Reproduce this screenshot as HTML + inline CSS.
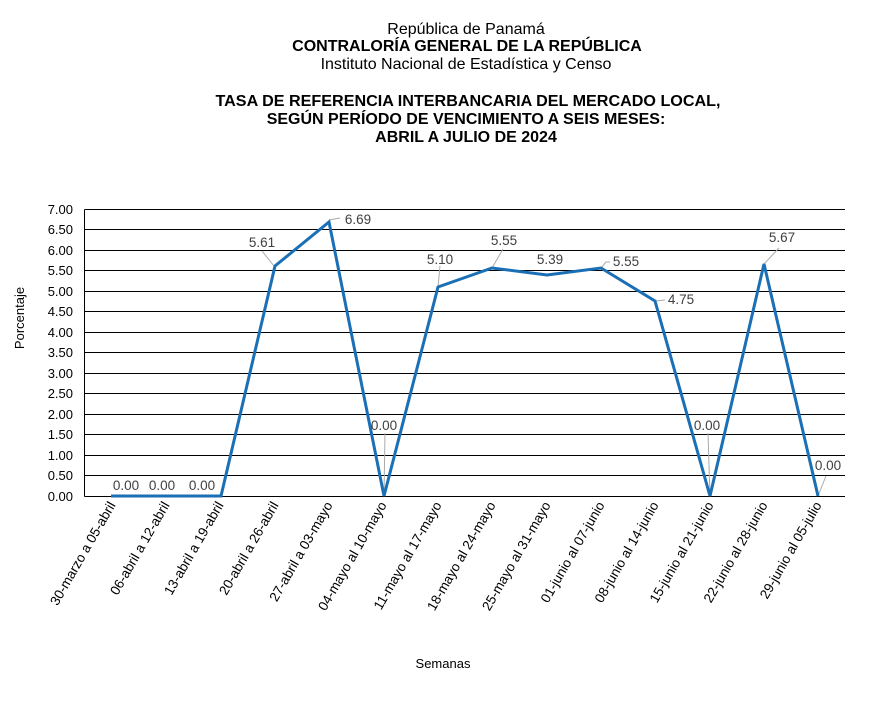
<!DOCTYPE html>
<html><head><meta charset="utf-8"><style>body{margin:0;background:#fff}svg{display:block}text{font-family:"Liberation Sans",Arial,sans-serif}</style></head><body>
<svg width="894" height="704" viewBox="0 0 894 704" xmlns="http://www.w3.org/2000/svg">
<g text-anchor="middle" fill="#000">
<text x="466" y="34" font-size="16">República de Panamá</text>
<text x="467" y="51" font-size="16" font-weight="bold">CONTRALORÍA GENERAL DE LA REPÚBLICA</text>
<text x="466" y="69" font-size="16">Instituto  Nacional de Estadística y Censo</text>
<text x="468" y="106" font-size="16" font-weight="bold" textLength="505" lengthAdjust="spacingAndGlyphs">TASA DE REFERENCIA INTERBANCARIA DEL MERCADO LOCAL,</text>
<text x="466" y="124" font-size="16" font-weight="bold">SEGÚN PERÍODO DE VENCIMIENTO A SEIS MESES:</text>
<text x="466" y="142" font-size="16" font-weight="bold">ABRIL A JULIO DE 2024</text>
</g>
<g stroke="#000" stroke-width="1">
<line x1="84.5" y1="209.5" x2="84.5" y2="496.5"/>
<line x1="84.5" y1="209.5" x2="845" y2="209.5"/><line x1="84.5" y1="229.5" x2="845" y2="229.5"/><line x1="84.5" y1="250.5" x2="845" y2="250.5"/><line x1="84.5" y1="270.5" x2="845" y2="270.5"/><line x1="84.5" y1="291.5" x2="845" y2="291.5"/><line x1="84.5" y1="311.5" x2="845" y2="311.5"/><line x1="84.5" y1="332.5" x2="845" y2="332.5"/><line x1="84.5" y1="352.5" x2="845" y2="352.5"/><line x1="84.5" y1="373.5" x2="845" y2="373.5"/><line x1="84.5" y1="393.5" x2="845" y2="393.5"/><line x1="84.5" y1="414.5" x2="845" y2="414.5"/><line x1="84.5" y1="434.5" x2="845" y2="434.5"/><line x1="84.5" y1="455.5" x2="845" y2="455.5"/><line x1="84.5" y1="475.5" x2="845" y2="475.5"/><line x1="84.5" y1="496.5" x2="845" y2="496.5"/>
</g>
<g font-size="13" text-anchor="end" fill="#000">
<text x="73" y="214">7.00</text><text x="73" y="234">6.50</text><text x="73" y="255">6.00</text><text x="73" y="275">5.50</text><text x="73" y="296">5.00</text><text x="73" y="316">4.50</text><text x="73" y="337">4.00</text><text x="73" y="357">3.50</text><text x="73" y="378">3.00</text><text x="73" y="398">2.50</text><text x="73" y="419">2.00</text><text x="73" y="439">1.50</text><text x="73" y="460">1.00</text><text x="73" y="480">0.50</text><text x="73" y="501">0.00</text>
</g>
<text x="24" y="318" font-size="13" text-anchor="middle" transform="rotate(-90 24 318)">Porcentaje</text>
<text x="443" y="668" font-size="13" text-anchor="middle">Semanas</text>
<g stroke="#aaa" stroke-width="1" fill="none">
<path d="M274 266 L262 251"/><path d="M329 220 L340 218"/><path d="M384 496 L385 433"/><path d="M438 287 L440 266"/><path d="M492 268 L503 249"/><path d="M601 268 L606 262 L610 262"/><path d="M655 301 L665 300"/><path d="M710 496 L708 433"/><path d="M764 264 L779 248"/><path d="M818 496 L826 476"/>
</g>
<polyline fill="none" stroke="#1b6fb4" stroke-width="3" stroke-linejoin="miter" points="111,496 166,496 221,496 275,266 329,222 384,496 438,287 492,268 547,275 601,268 655,301 710,496 764,264 818,496"/>
<g font-size="13.5" fill="#404040" text-anchor="middle">
<text x="126" y="490">0.00</text><text x="162" y="490">0.00</text><text x="202" y="490">0.00</text>
<text x="262" y="247">5.61</text><text x="358" y="224">6.69</text><text x="384" y="430">0.00</text>
<text x="440" y="264">5.10</text><text x="504" y="245">5.55</text><text x="550" y="264">5.39</text>
<text x="626" y="266">5.55</text><text x="681" y="304">4.75</text><text x="707" y="430">0.00</text>
<text x="782" y="242">5.67</text><text x="828" y="470">0.00</text>
</g>
<g font-size="13.5" text-anchor="end" fill="#000">
<text transform="translate(116,505) rotate(-60)">30-marzo a 05-abril</text>
<text transform="translate(170,505) rotate(-60)">06-abril a 12-abril</text>
<text transform="translate(224,505) rotate(-60)">13-abril a 19-abril</text>
<text transform="translate(279,505) rotate(-60)">20-abril a 26-abril</text>
<text transform="translate(333,505) rotate(-60)">27-abril a 03-mayo</text>
<text transform="translate(387,505) rotate(-60)">04-mayo al 10-mayo</text>
<text transform="translate(442,505) rotate(-60)">11-mayo al 17-mayo</text>
<text transform="translate(496,505) rotate(-60)">18-mayo al 24-mayo</text>
<text transform="translate(551,505) rotate(-60)">25-mayo al 31-mayo</text>
<text transform="translate(605,505) rotate(-60)">01-junio al 07-junio</text>
<text transform="translate(659,505) rotate(-60)">08-junio al 14-junio</text>
<text transform="translate(714,505) rotate(-60)">15-junio al 21-junio</text>
<text transform="translate(768,505) rotate(-60)">22-junio al 28-junio</text>
<text transform="translate(822,505) rotate(-60)">29-junio al 05-julio</text>
</g>
</svg>
</body></html>
